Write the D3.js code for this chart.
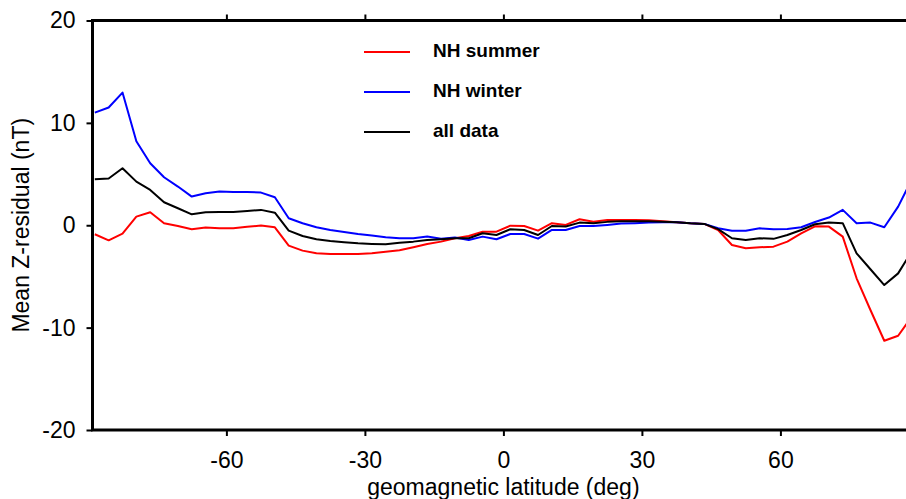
<!DOCTYPE html>
<html>
<head>
<meta charset="utf-8">
<script src="https://cdn.jsdelivr.net/npm/d3@7/dist/d3.min.js"></script>
<style>
  html, body { margin: 0; padding: 0; background: #fff; overflow: hidden; }
  svg { display: block; font-family: "Liberation Sans", Arial, Helvetica, sans-serif; }
</style>
</head>
<body>
<svg id="chart" width="906" height="499"></svg>
<script>
// Latitude bin centres (deg), 3-degree bins
const latitudes = d3.range(60).map(k => -88.5 + 3 * k);

const nhSummer = [
  -0.88, -1.47, -0.82, 0.84, 1.27, 0.19, -0.07, -0.39, -0.23, -0.30,
  -0.30, -0.15, -0.03, -0.20, -1.99, -2.48, -2.74, -2.80, -2.82, -2.80,
  -2.74, -2.60, -2.45, -2.15, -1.83, -1.60, -1.27, -1.05, -0.63, -0.63,
  -0.04, -0.07, -0.53, 0.20, 0.03, 0.59, 0.35, 0.52, 0.52, 0.52,
  0.50, 0.40, 0.30, 0.20, 0.13, -0.46, -1.93, -2.25, -2.15, -2.09,
  -1.60, -0.80, -0.10, -0.13, -1.11, -5.18, -8.28, -11.28, -10.79, -8.90
];

const nhWinter = [
  11.00, 11.50, 12.96, 8.20, 6.06, 4.69, 3.78, 2.80, 3.13, 3.29,
  3.26, 3.25, 3.19, 2.74, 0.68, 0.20, -0.20, -0.46, -0.65, -0.85,
  -1.00, -1.17, -1.27, -1.27, -1.11, -1.31, -1.20, -1.44, -1.11, -1.37,
  -0.85, -0.85, -1.31, -0.46, -0.46, -0.07, -0.07, 0.03, 0.16, 0.20,
  0.26, 0.30, 0.30, 0.20, 0.13, -0.30, -0.53, -0.53, -0.30, -0.40,
  -0.37, -0.20, 0.32, 0.75, 1.50, 0.20, 0.26, -0.20, 1.82, 4.50
];

const allData = [
  4.49, 4.56, 5.57, 4.26, 3.45, 2.25, 1.66, 1.07, 1.27, 1.30,
  1.30, 1.40, 1.50, 1.23, -0.53, -1.05, -1.37, -1.53, -1.65, -1.76,
  -1.82, -1.86, -1.72, -1.60, -1.44, -1.37, -1.27, -1.27, -0.78, -0.95,
  -0.39, -0.46, -0.95, -0.07, -0.13, 0.26, 0.20, 0.33, 0.40, 0.40,
  0.40, 0.35, 0.30, 0.20, 0.13, -0.38, -1.27, -1.44, -1.27, -1.33,
  -0.95, -0.46, 0.10, 0.26, 0.20, -2.74, -4.30, -5.84, -4.70, -2.50
];

const seriesNames = ["NH summer", "NH winter", "all data"];
const seriesColors = ["#ff0000", "#0000ff", "#000000"];
const seriesValues = [nhSummer, nhWinter, allData];

const xTicks = [-60, -30, 0, 30, 60];
const yTicks = [-20, -10, 0, 10, 20];
const xTitle = "geomagnetic latitude (deg)";
const yTitle = "Mean Z-residual (nT)";

const svg = d3.select("#chart");
const plot = { left: 92.5, top: 20.5, bottom: 430, right: 914.3 };

const x = d3.scaleLinear().domain([-89, 89]).range([plot.left, plot.right]);
const y = d3.scaleLinear().domain([-20, 20]).range([plot.bottom, plot.top]);

svg.append("defs").append("clipPath").attr("id", "clip")
  .append("rect")
  .attr("x", plot.left).attr("y", plot.top)
  .attr("width", plot.right - plot.left).attr("height", plot.bottom - plot.top);

// Lines
const line = d3.line()
  .x((d, i) => x(latitudes[i]))
  .y(d => y(d));

const g = svg.append("g").attr("clip-path", "url(#clip)");
[0, 1, 2].forEach(s => {
  g.append("path")
    .datum(seriesValues[s])
    .attr("fill", "none")
    .attr("stroke", seriesColors[s])
    .attr("stroke-width", 2)
    .attr("stroke-linejoin", "round")
    .attr("d", line);
});

// Axes
const fontSize = 23;
const fmt = d => String(d);  // plain hyphen-minus as in the original
const xAxisBottom = d3.axisBottom(x).tickValues(xTicks).tickSize(6).tickPadding(16).tickFormat(fmt);
const xAxisTop = d3.axisTop(x).tickValues(xTicks).tickSize(6).tickFormat("");
const yAxis = d3.axisLeft(y).tickValues(yTicks).tickSize(6).tickPadding(11).tickFormat(fmt);

function styleAxis(sel) {
  sel.select(".domain").remove();
  sel.selectAll(".tick line").attr("stroke", "#000").attr("stroke-width", 2);
  sel.selectAll(".tick text").attr("fill", "#000").attr("font-size", fontSize)
    .attr("font-family", "'Liberation Sans', Arial, sans-serif");
}

svg.append("g").attr("transform", `translate(0,${plot.bottom})`).call(xAxisBottom).call(styleAxis);
svg.append("g").attr("transform", `translate(0,${plot.top})`).call(xAxisTop).call(styleAxis);
svg.append("g").attr("transform", `translate(${plot.left},0)`).call(yAxis).call(styleAxis);

// Frame lines (thick)
svg.append("path")
  .attr("d", `M${plot.right + 10},${plot.top}H${plot.left}V${plot.bottom}H${plot.right + 10}`)
  .attr("fill", "none").attr("stroke", "#000").attr("stroke-width", 3)
  .attr("stroke-linecap", "square");

// Axis titles
svg.append("text")
  .attr("x", x(0)).attr("y", 495)
  .attr("text-anchor", "middle")
  .attr("font-size", fontSize)
  .text(xTitle);

svg.append("text")
  .attr("transform", `translate(29,${y(0)}) rotate(-90)`)
  .attr("text-anchor", "middle")
  .attr("font-size", fontSize)
  .text(yTitle);

// Legend
const legendY = [52, 92, 132];
seriesNames.forEach((name, i) => {
  svg.append("line")
    .attr("x1", 364).attr("x2", 410)
    .attr("y1", legendY[i]).attr("y2", legendY[i])
    .attr("stroke", seriesColors[i]).attr("stroke-width", 2);
  svg.append("text")
    .attr("x", 433).attr("y", legendY[i] - 2)
    .attr("dy", "0.35em")
    .attr("font-size", 19).attr("font-weight", "bold")
    .text(name);
});
</script>
</body>
</html>
